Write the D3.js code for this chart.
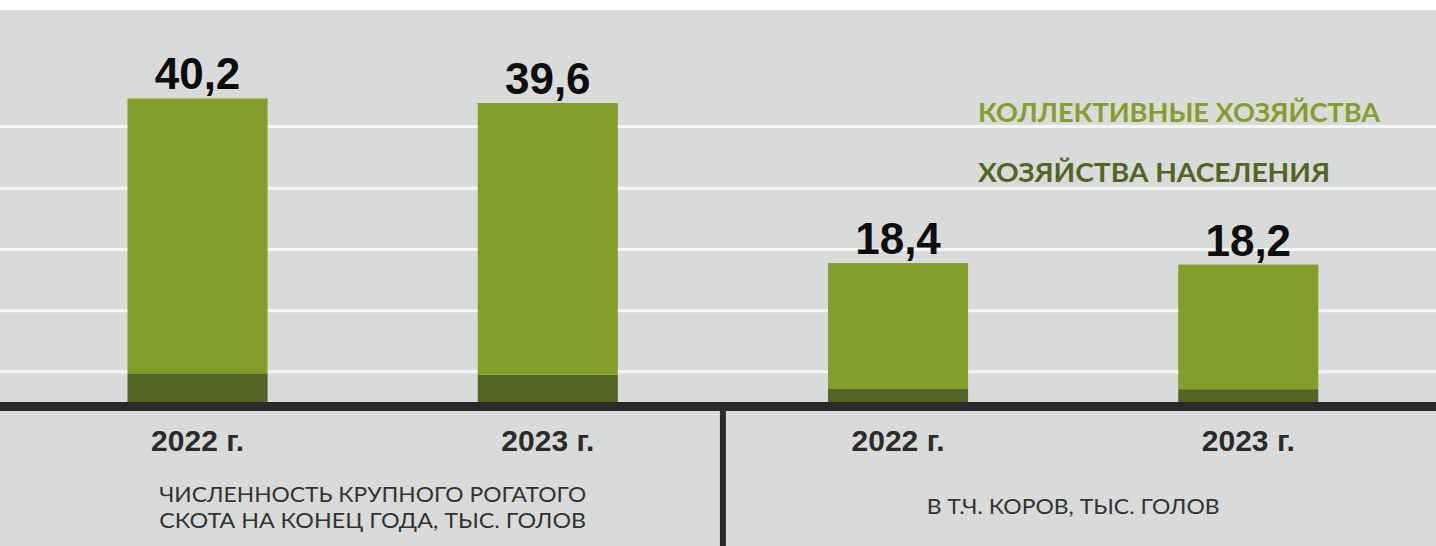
<!DOCTYPE html>
<html>
<head>
<meta charset="utf-8">
<script src="https://cdn.jsdelivr.net/npm/d3@7"></script>
<style>
  html, body { margin: 0; padding: 0; background: #fff; }
  #cattlePlot { width: 1436px; height: 546px; }
</style>
</head>
<body>
<div id="cattlePlot"></div>
<script>
// categories (bar keys) and the two groups they belong to
const barKeys = ["cattle2022", "cattle2023", "cows2022", "cows2023"];
const yearLabels = ["2022 г.", "2023 г.", "2022 г.", "2023 г."];
const totals = [40.2, 39.6, 18.4, 18.2];
const collective = [36.4, 36.0, 16.6, 16.5];
const households = [3.8, 3.6, 1.8, 1.7];
const totalLabels = ["40,2", "39,6", "18,4", "18,2"];
const groupCaptions = [
  ["ЧИСЛЕННОСТЬ КРУПНОГО РОГАТОГО", "СКОТА НА КОНЕЦ ГОДА, ТЫС. ГОЛОВ"],
  ["В Т.Ч. КОРОВ, ТЫС. ГОЛОВ"],
];
const legendLabels = ["КОЛЛЕКТИВНЫЕ ХОЗЯЙСТВА", "ХОЗЯЙСТВА НАСЕЛЕНИЯ"];
const gridValues = [4, 12.1, 20.2, 28.3, 36.5];

const makePlot = () => {
  const size = { width: 1436, height: 546 };
  const margin = { top: 10, bottom: 144 };
  const baseY = size.height - margin.bottom;

  const colors = {
    bg: "#d9dbda",
    collective: "#839e2a",
    households: "#536524",
    axis: "#2a2a2a",
    grid: "#f7f7f7",
  };

  const container = d3.select("#cattlePlot");
  container.selectAll("*").remove();
  const svg = container
    .append("svg")
    .attr("width", size.width)
    .attr("height", size.height);

  svg
    .append("rect")
    .attr("x", 0)
    .attr("y", margin.top)
    .attr("width", size.width)
    .attr("height", size.height - margin.top)
    .attr("fill", colors.bg);

  const x = d3
    .scaleBand()
    .domain(barKeys)
    .range([0, size.width])
    .paddingInner(0.6)
    .paddingOuter(0.35)
    .align(0.52);

  const y = d3.scaleLinear().domain([0, 50]).range([baseY, baseY - 50 * 7.55]);

  // white gridlines
  svg
    .append("g")
    .selectAll("line")
    .data(gridValues)
    .join("line")
    .attr("x1", 0)
    .attr("x2", size.width)
    .attr("y1", (d) => y(d))
    .attr("y2", (d) => y(d))
    .attr("stroke", colors.grid)
    .attr("stroke-width", 3);

  const rows = barKeys.map((key, i) => ({
    key,
    collective: collective[i],
    households: households[i],
    total: totals[i],
    label: totalLabels[i],
    year: yearLabels[i],
  }));

  const stack = d3.stack().keys(["households", "collective"])(rows);

  svg
    .append("g")
    .selectAll("g")
    .data(stack)
    .join("g")
    .attr("fill", (s) => colors[s.key])
    .selectAll("rect")
    .data((s) => s)
    .join("rect")
    .attr("x", (d) => x(d.data.key))
    .attr("width", x.bandwidth())
    .attr("y", (d) => y(d[1]))
    .attr("height", (d) => y(d[0]) - y(d[1]));

  // value labels
  svg
    .append("g")
    .style("font-family", "'Liberation Sans', Arial, sans-serif")
    .style("font-weight", "bold")
    .style("font-size", "44px")
    .selectAll("text")
    .data(rows)
    .join("text")
    .text((d) => d.label)
    .attr("x", (d) => x(d.key) + x.bandwidth() / 2)
    .attr("y", (d) => y(d.total) - 9)
    .attr("text-anchor", "middle")
    .attr("fill", "#0d0d0d");

  // legend (text only)
  const legend = svg
    .append("g")
    .style("font-family", "Lato, 'Open Sans', sans-serif")
    .style("font-weight", "bold")
    .style("font-size", "26px");
  legend
    .append("text")
    .text(legendLabels[0])
    .attr("x", 978)
    .attr("y", 122)
    .attr("textLength", 402)
    .attr("lengthAdjust", "spacingAndGlyphs")
    .attr("fill", colors.collective);
  legend
    .append("text")
    .text(legendLabels[1])
    .attr("x", 978)
    .attr("y", 182)
    .attr("textLength", 352)
    .attr("lengthAdjust", "spacingAndGlyphs")
    .attr("fill", colors.households);

  // thick baseline + separator
  svg
    .append("rect")
    .attr("x", 0)
    .attr("y", baseY)
    .attr("width", size.width)
    .attr("height", 9)
    .attr("fill", colors.axis);

  const sepX = (x(barKeys[1]) + x.bandwidth() + x(barKeys[2])) / 2;
  svg
    .append("rect")
    .attr("x", sepX - 3)
    .attr("y", baseY + 9)
    .attr("width", 6)
    .attr("height", size.height - baseY - 9)
    .attr("fill", colors.axis);

  // year labels
  svg
    .append("g")
    .style("font-family", "'Liberation Sans', Arial, sans-serif")
    .style("font-weight", "bold")
    .style("font-size", "30px")
    .selectAll("text")
    .data(rows)
    .join("text")
    .text((d) => d.year)
    .attr("x", (d) => x(d.key) + x.bandwidth() / 2)
    .attr("y", 451)
    .attr("text-anchor", "middle")
    .attr("fill", "#2b2b2b");

  // group captions
  const captions = svg
    .append("g")
    .style("font-family", "Lato, 'Open Sans', sans-serif")
    .style("font-size", "21px")
    .attr("fill", "#333");

  groupCaptions.forEach((lines, gi) => {
    const a = barKeys[gi * 2];
    const b = barKeys[gi * 2 + 1];
    const cx = (x(a) + x(b) + x.bandwidth()) / 2;
    const startY = lines.length > 1 ? 502 : 514;
    lines.forEach((line, li) => {
      captions
        .append("text")
        .text(line)
        .attr("x", cx)
        .attr("y", startY + li * 26)
        .attr("text-anchor", "middle")
        .attr("textLength", gi === 0 ? 427 : 293)
        .attr("lengthAdjust", "spacingAndGlyphs");
    });
  });
};

makePlot();
</script>
</body>
</html>
